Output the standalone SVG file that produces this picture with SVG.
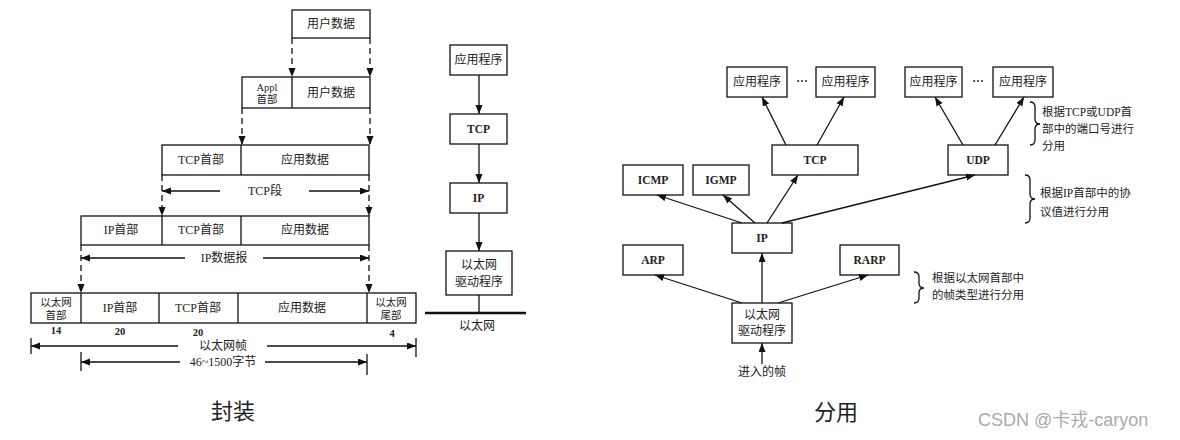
<svg xmlns="http://www.w3.org/2000/svg" width="1180" height="440" viewBox="0 0 1180 440">
<defs>
<marker id="ah" markerUnits="userSpaceOnUse" markerWidth="10" markerHeight="8" refX="9" refY="3.5" orient="auto">
<path d="M0,0 L9,3.5 L0,7 z" fill="#111"/>
</marker>
<style>
rect{fill:#fff;stroke:#111;stroke-width:1.3}
.ln{stroke:#111;stroke-width:1.3;fill:none}
.ar{stroke:#111;stroke-width:1.3;fill:none;marker-end:url(#ah)}
.da{stroke:#111;stroke-width:1.3;fill:none;stroke-dasharray:6 4;marker-end:url(#ah)}
.dl{stroke:#111;stroke-width:1.3;fill:none;stroke-dasharray:6 4}
text{font-family:"Liberation Serif","Noto Sans CJK SC",serif;font-size:12px;fill:#222;text-anchor:middle;dominant-baseline:central}
.b{font-weight:bold;font-size:11.5px}
.s{font-size:10.5px}
.n{font-weight:bold;font-size:10.5px}
.t{font-size:22px}
.l{text-anchor:start;font-size:11.5px}
.wm{font-family:"Liberation Sans","Noto Sans CJK SC",sans-serif;font-size:18px;fill:#aaa;text-anchor:start}
</style>
</defs>
<g id="encapsulation">
<g id="row-user"><rect x="292" y="10" width="78" height="28"/><text x="331" y="24">用户数据</text></g>
<g id="row-appl"><rect x="242" y="77" width="128" height="31"/><line class="ln" x1="292" y1="77" x2="292" y2="108"/><text class="s" x="267" y="87">Appl</text><text class="s" x="267" y="99">首部</text><text x="331" y="93">用户数据</text></g>
<g id="row-tcp"><rect x="162" y="145" width="207" height="30"/><line class="ln" x1="241" y1="145" x2="241" y2="175"/><text x="201" y="160">TCP首部</text><text x="305" y="160">应用数据</text></g>
<g id="row-ip"><rect x="81" y="216" width="288" height="29"/><line class="ln" x1="162" y1="216" x2="162" y2="245"/><line class="ln" x1="241" y1="216" x2="241" y2="245"/><text x="121" y="230">IP首部</text><text x="201" y="230">TCP首部</text><text x="305" y="230">应用数据</text></g>
<g id="row-eth"><rect x="31" y="293" width="385" height="30"/><line class="ln" x1="81" y1="293" x2="81" y2="323"/><line class="ln" x1="159" y1="293" x2="159" y2="323"/><line class="ln" x1="238" y1="293" x2="238" y2="323"/><line class="ln" x1="367" y1="293" x2="367" y2="323"/>
<text class="s" x="56" y="302">以太网</text><text class="s" x="56" y="315">首部</text><text x="120" y="308">IP首部</text><text x="198" y="308">TCP首部</text><text x="302" y="308">应用数据</text><text class="s" x="391" y="302">以太网</text><text class="s" x="391" y="315">尾部</text>
<text class="n" x="56" y="330">14</text><text class="n" x="120" y="331">20</text><text class="n" x="198" y="332">20</text><text class="n" x="392" y="333">4</text></g>
<g id="connectors-encap">
<line class="da" x1="292" y1="38" x2="292" y2="77"/><line class="da" x1="370" y1="38" x2="370" y2="77"/>
<line class="da" x1="242" y1="108" x2="242" y2="145"/><line class="da" x1="370" y1="108" x2="370" y2="145"/>
<line class="da" x1="162" y1="175" x2="162" y2="216"/><line class="da" x1="369" y1="175" x2="369" y2="216"/>
<line class="ar" x1="220" y1="191" x2="162" y2="191"/><line class="ar" x1="309" y1="191" x2="369" y2="191"/>
<line class="da" x1="81" y1="245" x2="81" y2="293"/><line class="da" x1="369" y1="245" x2="369" y2="293"/>
<line class="ar" x1="185" y1="258" x2="81" y2="258"/><line class="ar" x1="263" y1="258" x2="369" y2="258"/>
<line class="ln" x1="31" y1="338" x2="31" y2="354"/><line class="ln" x1="416" y1="338" x2="416" y2="357"/>
<line class="ar" x1="178" y1="346" x2="31" y2="346"/><line class="ar" x1="267" y1="346" x2="416" y2="346"/>
<line class="ln" x1="81" y1="352" x2="81" y2="371"/><line class="ln" x1="367" y1="354" x2="367" y2="375"/>
<line class="ar" x1="180" y1="362" x2="81" y2="362"/><line class="ar" x1="265" y1="362" x2="367" y2="362"/>
</g>
<text x="265" y="191">TCP段</text>
<text x="224" y="258">IP数据报</text>
<text x="223" y="346">以太网帧</text>
<text x="223" y="362">46~1500字节</text>
<text class="t" x="233" y="411">封装</text>
</g>
<g id="stack">
<g id="st-app"><rect x="450" y="45" width="57" height="30"/><text x="478.5" y="60">应用程序</text></g>
<g id="st-tcp"><rect x="450" y="114" width="57" height="30"/><text class="b" x="478.5" y="129">TCP</text></g>
<g id="st-ip"><rect x="450" y="183" width="57" height="30"/><text class="b" x="478.5" y="198">IP</text></g>
<g id="st-eth"><rect x="446" y="251" width="66" height="44"/><text x="479" y="265">以太网</text><text x="479" y="282">驱动程序</text></g>
<g id="connectors-stack">
<line class="ar" x1="479" y1="75" x2="479" y2="114"/><line class="ar" x1="479" y1="144" x2="479" y2="183"/><line class="ar" x1="479" y1="213" x2="479" y2="251"/>
<line class="ln" x1="479" y1="295" x2="479" y2="313"/><line stroke="#111" stroke-width="2.6" x1="425" y1="313" x2="526" y2="313"/>
</g>
<text x="477" y="326">以太网</text>
</g>
<g id="demux">
<g id="app1"><rect x="727" y="67" width="60" height="30"/><text x="757" y="82">应用程序</text></g>
<g id="app2"><rect x="816" y="67" width="59" height="30"/><text x="845.5" y="82">应用程序</text></g>
<g id="app3"><rect x="905" y="67" width="57" height="30"/><text x="933.5" y="82">应用程序</text></g>
<g id="app4"><rect x="993" y="67" width="60" height="30"/><text x="1023" y="82">应用程序</text></g>
<text class="b" x="802" y="81">···</text>
<text class="b" x="978" y="81">···</text>
<g id="tcp"><rect x="772" y="145" width="86" height="30"/><text class="b" x="815" y="160">TCP</text></g>
<g id="udp"><rect x="948" y="145" width="60" height="30"/><text class="b" x="978" y="160">UDP</text></g>
<g id="icmp"><rect x="623" y="165" width="60" height="30"/><text class="b" x="653" y="180">ICMP</text></g>
<g id="igmp"><rect x="693" y="165" width="56" height="30"/><text class="b" x="721" y="180">IGMP</text></g>
<g id="ip"><rect x="732" y="223" width="60" height="30"/><text class="b" x="762" y="238">IP</text></g>
<g id="arp"><rect x="623" y="245" width="60" height="30"/><text class="b" x="653" y="260">ARP</text></g>
<g id="rarp"><rect x="840" y="245" width="59" height="30"/><text class="b" x="869.5" y="260">RARP</text></g>
<g id="eth"><rect x="732" y="303" width="60" height="40"/><text x="762" y="315">以太网</text><text x="762" y="331">驱动程序</text></g>
<g id="connectors-demux">
<line class="ar" x1="786" y1="145" x2="762" y2="97"/>
<line class="ar" x1="817" y1="145" x2="844" y2="97"/>
<line class="ar" x1="963" y1="145" x2="935" y2="97"/>
<line class="ar" x1="995" y1="145" x2="1024" y2="97"/>
<line class="ar" x1="742" y1="223" x2="657" y2="195"/>
<line class="ar" x1="755" y1="223" x2="723" y2="195"/>
<line class="ar" x1="767" y1="223" x2="798" y2="175"/>
<line class="ar" x1="782" y1="223" x2="975" y2="175"/>
<line class="ar" x1="742" y1="303" x2="655" y2="275"/>
<line class="ar" x1="762" y1="303" x2="762" y2="253"/>
<line class="ar" x1="778" y1="303" x2="868" y2="275"/>
<line class="ar" x1="762" y1="364" x2="762" y2="343"/>
</g>
<text x="762" y="372">进入的帧</text>
<g id="note1"><path class="ln" d="M1030,102 Q1035,102 1035,107 L1035,119 Q1035,124 1040,124 Q1035,124 1035,129 L1035,140 Q1035,145 1030,145"/>
<text class="l" x="1042" y="112">根据TCP或UDP首</text><text class="l" x="1042" y="129">部中的端口号进行</text><text class="l" x="1042" y="146">分用</text></g>
<g id="note2"><path class="ln" d="M1025,175 Q1030,175 1030,180 L1030,194 Q1030,199 1035,199 Q1030,199 1030,204 L1030,218 Q1030,223 1025,223"/>
<text class="l" x="1040" y="193">根据IP首部中的协</text><text class="l" x="1040" y="212">议值进行分用</text></g>
<g id="note3"><path class="ln" d="M914,272 Q919,272 919,277 L919,283 Q919,288 924,288 Q919,288 919,293 L919,298 Q919,303 914,303"/>
<text class="l" x="932" y="278">根据以太网首部中</text><text class="l" x="932" y="295">的帧类型进行分用</text></g>
<text class="t" x="836" y="412">分用</text>
</g>
<text class="wm" x="978" y="420">CSDN @卡戎-caryon</text>
</svg>
